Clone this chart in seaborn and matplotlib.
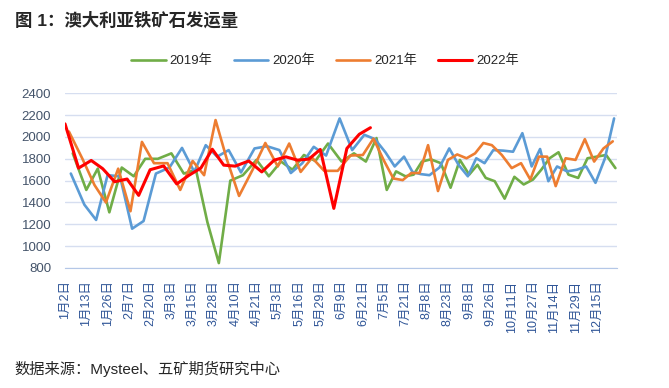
import numpy as np
import pandas as pd
import matplotlib
matplotlib.use('Agg')
import matplotlib.pyplot as plt
import seaborn as sns

# x 轴标签（类别轴，标签间隔不等）
tick_labels = ['1月2日', '1月13日', '1月26日', '2月7日', '2月20日', '3月3日', '3月15日',
               '3月28日', '4月10日', '4月21日', '5月3日', '5月16日', '5月29日', '6月9日',
               '6月21日', '7月5日', '7月21日', '8月8日', '8月23日', '9月8日', '9月26日',
               '10月11日', '10月27日', '11月14日', '11月29日', '12月15日']

years = ['2019年', '2020年', '2021年', '2022年']
# 每年第一期周度数据的年内天数
first_days = [6, 5, 4, 2]

# 周度发运量（万吨）
ship_2019 = [1850, 1515, 1710, 1310, 1720, 1640, 1800, 1800, 1850, 1665,
             1700, 1220, 845, 1600, 1650, 1790, 1640, 1775, 1700, 1835,
             1780, 1940, 1775, 1850, 1775, 1990, 1515, 1685, 1640, 1655,
             1775, 1795, 1760, 1535, 1790, 1655, 1745, 1625, 1595, 1435,
             1635, 1565, 1610, 1700, 1805, 1860, 1655, 1625, 1805, 1820,
             1835, 1715]
ship_2020 = [1665, 1380, 1240, 1650, 1640, 1160, 1230, 1665, 1720, 1900,
             1680, 1925, 1820, 1880, 1675, 1895, 1915, 1880, 1670, 1760,
             1910, 1830, 2170, 1880, 2020, 1980, 1860, 1730, 1820, 1680,
             1660, 1650, 1720, 1895, 1745, 1640, 1805, 1760, 1880, 1875,
             1865, 2035, 1730, 1890, 1595, 1730, 1685, 1700, 1730, 1580,
             1800, 2170]
ship_2021 = [2050, 1800, 1560, 1400, 1710, 1320, 1955, 1760, 1760, 1515,
             1780, 1650, 2155, 1790, 1460, 1700, 1945, 1730, 1940, 1680,
             1810, 1690, 1690, 1830, 1835, 1985, 1780, 1620, 1605, 1670,
             1670, 1925, 1505, 1790, 1840, 1805, 1850, 1945, 1925, 1835,
             1715, 1760, 1610, 1820, 1820, 1550, 1805, 1790, 1980, 1775,
             1895, 1960]
ship_2022 = [2120, 1715, 1785, 1710, 1590, 1615, 1465, 1700, 1735, 1570,
             1650, 1715, 1888, 1742, 1733, 1780, 1680, 1788, 1818, 1788,
             1797, 1886, 1346, 1895, 2025, 2085]

colors = ['#70AD47', '#5B9BD5', '#ED7D31', '#FF0000']
widths = [1.9, 1.9, 1.9, 2.2]

sns.set_style('white')
plt.rcParams['font.family'] = ['Liberation Sans', 'Noto Sans CJK SC', 'DejaVu Sans']
plt.rcParams['axes.unicode_minus'] = False

# 类别轴：标签日期 -> 位置，日期之间线性插值
label_days = [pd.Timestamp('2021-' + s.replace('月', '-').replace('日', '')).dayofyear
              for s in tick_labels]
anchor_days = label_days + [365]
anchor_pos = np.arange(len(anchor_days))

frames = []
for year, first, vals in zip(years, first_days, [ship_2019, ship_2020, ship_2021, ship_2022]):
    days = first + 7 * np.arange(len(vals))
    frames.append(pd.DataFrame({'pos': np.interp(days, anchor_days, anchor_pos),
                                'value': vals, 'year': year}))
df = pd.concat(frames, ignore_index=True)

fig = plt.figure(figsize=(6.69, 3.88), dpi=100)
ax = fig.add_axes([0.0972, 0.3093, 0.8251, 0.4502])

for year, c, lw in zip(years, colors, widths):
    sub = df[df['year'] == year]
    sns.lineplot(data=sub, x='pos', y='value', color=c, linewidth=lw,
                 label=year, ax=ax, sort=False)

ax.set_xlim(0, 25.95)
ax.set_ylim(800, 2400)
ax.set_yticks(range(800, 2401, 200))
ax.set_xticks(range(len(tick_labels)))
ax.set_xticklabels(tick_labels, rotation=90, fontsize=9, color='#2F5597')
ax.set_xticks(np.arange(0, 25.95, 1 / 8), minor=True)
ax.tick_params(axis='x', which='major', length=3, color='#B4C7E7', pad=6)
ax.tick_params(axis='x', which='minor', length=3, color='#B4C7E7')
ax.tick_params(axis='y', length=0, pad=10, labelsize=9.5, labelcolor='#44546A')
ax.set_xlabel('')
ax.set_ylabel('')

ax.yaxis.grid(True, color='#D6DEF0', linewidth=1.0)
ax.xaxis.grid(False)
for side in ['left', 'top', 'right']:
    ax.spines[side].set_visible(False)
ax.spines['bottom'].set_color('#B4C7E7')

handles, labels = ax.get_legend_handles_labels()
ax.get_legend().remove()
fig.legend(handles, labels, ncol=4, loc='center', bbox_to_anchor=(0.486, 0.843),
           frameon=False, fontsize=9.5, handlelength=2.6, handletextpad=0.3,
           columnspacing=1.6)

fig.text(0.022, 0.948, '图 1：澳大利亚铁矿石发运量', fontsize=12.5,
         fontweight='bold', va='center')
fig.text(0.022, 0.05, '数据来源：Mysteel、五矿期货研究中心', fontsize=11, va='center')

fig.savefig('out.png', dpi=100, facecolor='white')
